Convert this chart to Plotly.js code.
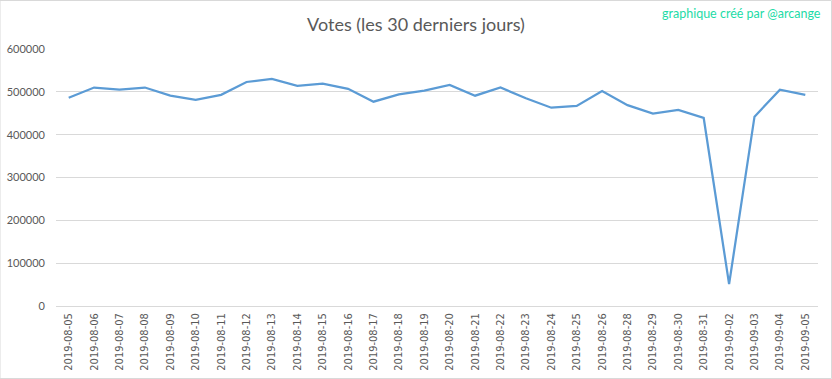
<!DOCTYPE html>
<html><head><meta charset="utf-8">
<script src="https://cdn.plot.ly/plotly-3.0.1.min.js"></script>
<style>html,body{margin:0;padding:0;background:#fff;}#c{width:832px;height:379px;}</style>
</head><body><div id="c"></div>
<script>
const dates = ["2019-08-05","2019-08-06","2019-08-07","2019-08-08","2019-08-09","2019-08-10","2019-08-11","2019-08-12","2019-08-13","2019-08-14","2019-08-15","2019-08-16","2019-08-17","2019-08-18","2019-08-19","2019-08-20","2019-08-21","2019-08-22","2019-08-23","2019-08-24","2019-08-25","2019-08-26","2019-08-28","2019-08-29","2019-08-30","2019-08-31","2019-09-02","2019-09-03","2019-09-04","2019-09-05"];
const votes = [486000,510000,505000,510000,491000,481000,493000,523000,530000,514000,519000,507000,477000,494000,503000,516000,491000,510000,485000,463000,467000,502000,469000,449000,458000,439000,51000,442000,505000,493000];
const yTicks = [0,100000,200000,300000,400000,500000,600000];
const chartTitle = "Votes (les 30 derniers jours)";
const credit = "graphique créé par @arcange";

Plotly.newPlot('c', [{
  x: dates, y: votes, type: 'scatter', mode: 'lines',
  line: {color: '#5b9bd5', width: 2.25}, hoverinfo: 'x+y'
}], {
  width: 832, height: 379,
  paper_bgcolor: '#fff', plot_bgcolor: '#fff',
  margin: {l: 56, r: 14, t: 49, b: 73},
  showlegend: false,
  title: {text: chartTitle, x: 0.5, xanchor: 'center', y: 0.935, yanchor: 'middle',
          font: {family: 'Lato, "Open Sans", sans-serif', size: 18, color: '#595959'}},
  xaxis: {type: 'category', range: [-0.5, dates.length - 0.5], tickangle: -90, showgrid: false, zeroline: false,
          showline: false, ticks: '', ticklen: 0, ticklabelstandoff: 4,
          tickfont: {family: '"Liberation Sans Narrow", "DejaVu Sans Condensed", sans-serif', size: 11, color: '#595959'}},
  yaxis: {range: [0, 600000], tickvals: yTicks, ticktext: yTicks.map(String),
          showgrid: true, gridcolor: '#d9d9d9', gridwidth: 1, zeroline: true, zerolinecolor: '#d9d9d9',
          showline: false, ticks: '', ticklen: 0, ticklabelstandoff: 10,
          tickfont: {family: 'Lato, "Open Sans", sans-serif', size: 11, color: '#595959'}},
  annotations: [{text: credit, xref: 'paper', yref: 'paper', x: 1.007, y: 1, xanchor: 'right',
                 yanchor: 'bottom', yshift: 26, showarrow: false,
                 font: {family: 'Lato, "Open Sans", sans-serif', size: 12.5, color: '#1ddba6'}}],
  shapes: [{type: 'rect', xref: 'paper', yref: 'paper', x0: -56/762, x1: 1+13.5/762, y0: -72.5/257, y1: 1+48.5/257,
            line: {color: '#d9d9d9', width: 1}, fillcolor: 'rgba(0,0,0,0)'}]
}, {displayModeBar: false, staticPlot: true});
</script></body></html>
